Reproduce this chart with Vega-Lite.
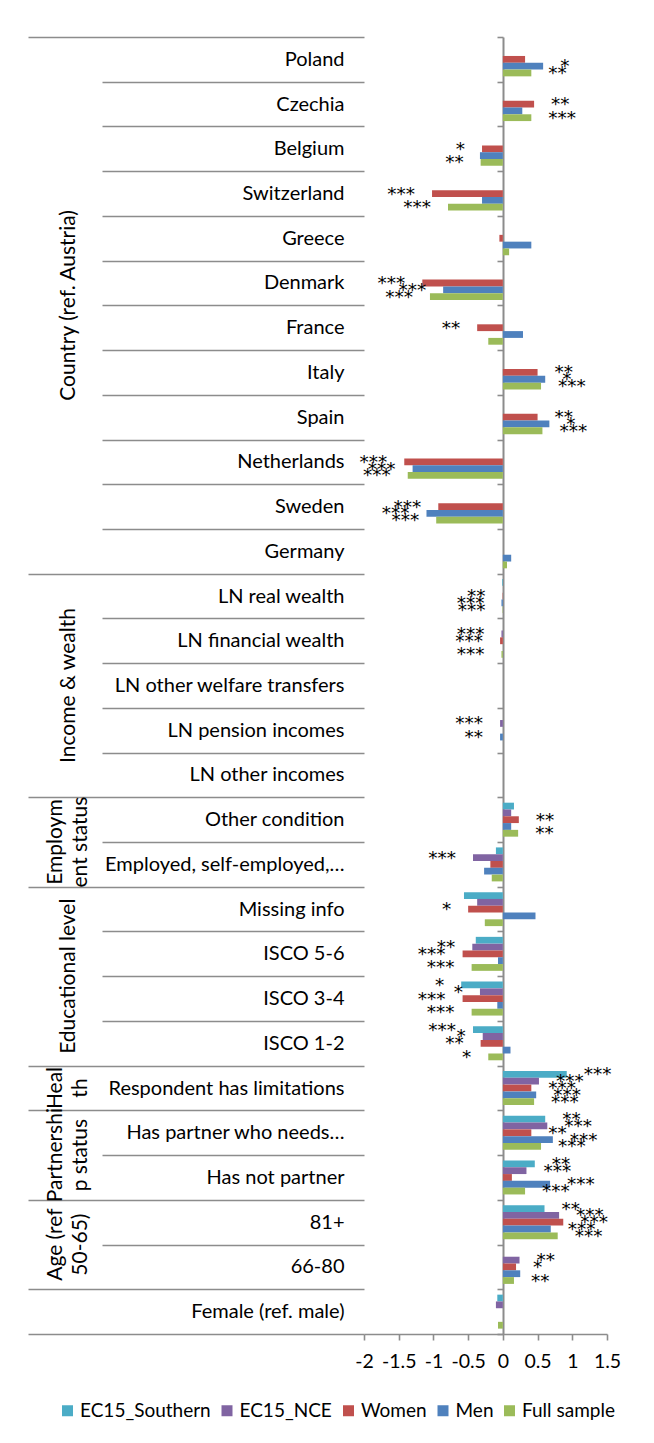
{
  "$schema": "https://vega.github.io/schema/vega-lite/v6.json",
  "width": 243,
  "height": 1297,
  "autosize": {"type": "none"},
  "padding": {"left": 364, "top": 37, "right": 47, "bottom": 109},
  "background": "white",
  "config": {"view": {"stroke": null}, "font": "Lato"},
  "data": {
    "values": [
      {"cat": "Poland", "series": "Women", "value": 0.32, "star": ""},
      {"cat": "Poland", "series": "Men", "value": 0.58, "star": "*"},
      {"cat": "Poland", "series": "Full sample", "value": 0.41, "star": "**"},
      {"cat": "Czechia", "series": "Women", "value": 0.45, "star": "**"},
      {"cat": "Czechia", "series": "Men", "value": 0.28, "star": ""},
      {"cat": "Czechia", "series": "Full sample", "value": 0.41, "star": "***"},
      {"cat": "Belgium", "series": "Women", "value": -0.30, "star": "*"},
      {"cat": "Belgium", "series": "Men", "value": -0.33, "star": ""},
      {"cat": "Belgium", "series": "Full sample", "value": -0.32, "star": "**"},
      {"cat": "Switzerland", "series": "Women", "value": -1.02, "star": "***"},
      {"cat": "Switzerland", "series": "Men", "value": -0.30, "star": ""},
      {"cat": "Switzerland", "series": "Full sample", "value": -0.79, "star": "***"},
      {"cat": "Greece", "series": "Women", "value": -0.05, "star": ""},
      {"cat": "Greece", "series": "Men", "value": 0.41, "star": ""},
      {"cat": "Greece", "series": "Full sample", "value": 0.09, "star": ""},
      {"cat": "Denmark", "series": "Women", "value": -1.16, "star": "***"},
      {"cat": "Denmark", "series": "Men", "value": -0.86, "star": "***"},
      {"cat": "Denmark", "series": "Full sample", "value": -1.05, "star": "***"},
      {"cat": "France", "series": "Women", "value": -0.37, "star": "**"},
      {"cat": "France", "series": "Men", "value": 0.29, "star": ""},
      {"cat": "France", "series": "Full sample", "value": -0.21, "star": ""},
      {"cat": "Italy", "series": "Women", "value": 0.50, "star": "**"},
      {"cat": "Italy", "series": "Men", "value": 0.61, "star": "*"},
      {"cat": "Italy", "series": "Full sample", "value": 0.55, "star": "***"},
      {"cat": "Spain", "series": "Women", "value": 0.50, "star": "**"},
      {"cat": "Spain", "series": "Men", "value": 0.67, "star": "*"},
      {"cat": "Spain", "series": "Full sample", "value": 0.57, "star": "***"},
      {"cat": "Netherlands", "series": "Women", "value": -1.42, "star": "***"},
      {"cat": "Netherlands", "series": "Men", "value": -1.30, "star": "***"},
      {"cat": "Netherlands", "series": "Full sample", "value": -1.37, "star": "***"},
      {"cat": "Sweden", "series": "Women", "value": -0.93, "star": "***"},
      {"cat": "Sweden", "series": "Men", "value": -1.10, "star": "***"},
      {"cat": "Sweden", "series": "Full sample", "value": -0.96, "star": "***"},
      {"cat": "Germany", "series": "Men", "value": 0.12, "star": ""},
      {"cat": "Germany", "series": "Full sample", "value": 0.06, "star": ""},
      {"cat": "LN real wealth", "series": "EC15_Southern", "value": -0.01, "star": ""},
      {"cat": "LN real wealth", "series": "Women", "value": -0.005, "star": "**"},
      {"cat": "LN real wealth", "series": "Men", "value": -0.02, "star": "***"},
      {"cat": "LN real wealth", "series": "Full sample", "value": -0.005, "star": "***"},
      {"cat": "LN financial wealth", "series": "EC15_NCE", "value": -0.02, "star": "***"},
      {"cat": "LN financial wealth", "series": "Women", "value": -0.04, "star": "***"},
      {"cat": "LN financial wealth", "series": "Full sample", "value": -0.02, "star": "***"},
      {"cat": "LN pension incomes", "series": "EC15_NCE", "value": -0.04, "star": "***"},
      {"cat": "LN pension incomes", "series": "Men", "value": -0.04, "star": "**"},
      {"cat": "Other condition", "series": "EC15_Southern", "value": 0.16, "star": ""},
      {"cat": "Other condition", "series": "EC15_NCE", "value": 0.12, "star": ""},
      {"cat": "Other condition", "series": "Women", "value": 0.23, "star": "**"},
      {"cat": "Other condition", "series": "Men", "value": 0.12, "star": ""},
      {"cat": "Other condition", "series": "Full sample", "value": 0.22, "star": "**"},
      {"cat": "Employed, self-employed,…", "series": "EC15_Southern", "value": -0.10, "star": ""},
      {"cat": "Employed, self-employed,…", "series": "EC15_NCE", "value": -0.43, "star": "***"},
      {"cat": "Employed, self-employed,…", "series": "Women", "value": -0.18, "star": ""},
      {"cat": "Employed, self-employed,…", "series": "Men", "value": -0.27, "star": ""},
      {"cat": "Employed, self-employed,…", "series": "Full sample", "value": -0.16, "star": ""},
      {"cat": "Missing info", "series": "EC15_Southern", "value": -0.56, "star": ""},
      {"cat": "Missing info", "series": "EC15_NCE", "value": -0.37, "star": ""},
      {"cat": "Missing info", "series": "Women", "value": -0.50, "star": "*"},
      {"cat": "Missing info", "series": "Men", "value": 0.47, "star": ""},
      {"cat": "Missing info", "series": "Full sample", "value": -0.26, "star": ""},
      {"cat": "ISCO 5-6", "series": "EC15_Southern", "value": -0.39, "star": ""},
      {"cat": "ISCO 5-6", "series": "EC15_NCE", "value": -0.44, "star": "**"},
      {"cat": "ISCO 5-6", "series": "Women", "value": -0.58, "star": "***"},
      {"cat": "ISCO 5-6", "series": "Men", "value": -0.07, "star": ""},
      {"cat": "ISCO 5-6", "series": "Full sample", "value": -0.45, "star": "***"},
      {"cat": "ISCO 3-4", "series": "EC15_Southern", "value": -0.60, "star": "*"},
      {"cat": "ISCO 3-4", "series": "EC15_NCE", "value": -0.33, "star": "*"},
      {"cat": "ISCO 3-4", "series": "Women", "value": -0.58, "star": "***"},
      {"cat": "ISCO 3-4", "series": "Men", "value": -0.08, "star": ""},
      {"cat": "ISCO 3-4", "series": "Full sample", "value": -0.45, "star": "***"},
      {"cat": "ISCO 1-2", "series": "EC15_Southern", "value": -0.43, "star": "***"},
      {"cat": "ISCO 1-2", "series": "EC15_NCE", "value": -0.29, "star": "*"},
      {"cat": "ISCO 1-2", "series": "Women", "value": -0.32, "star": "**"},
      {"cat": "ISCO 1-2", "series": "Men", "value": 0.11, "star": ""},
      {"cat": "ISCO 1-2", "series": "Full sample", "value": -0.21, "star": "*"},
      {"cat": "Respondent has limitations", "series": "EC15_Southern", "value": 0.92, "star": "***"},
      {"cat": "Respondent has limitations", "series": "EC15_NCE", "value": 0.52, "star": "***"},
      {"cat": "Respondent has limitations", "series": "Women", "value": 0.41, "star": "***"},
      {"cat": "Respondent has limitations", "series": "Men", "value": 0.48, "star": "***"},
      {"cat": "Respondent has limitations", "series": "Full sample", "value": 0.45, "star": "***"},
      {"cat": "Has partner who needs…", "series": "EC15_Southern", "value": 0.61, "star": "**"},
      {"cat": "Has partner who needs…", "series": "EC15_NCE", "value": 0.64, "star": "***"},
      {"cat": "Has partner who needs…", "series": "Women", "value": 0.41, "star": "**"},
      {"cat": "Has partner who needs…", "series": "Men", "value": 0.72, "star": "***"},
      {"cat": "Has partner who needs…", "series": "Full sample", "value": 0.55, "star": "***"},
      {"cat": "Has not partner", "series": "EC15_Southern", "value": 0.46, "star": "**"},
      {"cat": "Has not partner", "series": "EC15_NCE", "value": 0.34, "star": "***"},
      {"cat": "Has not partner", "series": "Women", "value": 0.13, "star": ""},
      {"cat": "Has not partner", "series": "Men", "value": 0.68, "star": "***"},
      {"cat": "Has not partner", "series": "Full sample", "value": 0.32, "star": "***"},
      {"cat": "81+", "series": "EC15_Southern", "value": 0.60, "star": "**"},
      {"cat": "81+", "series": "EC15_NCE", "value": 0.81, "star": "***"},
      {"cat": "81+", "series": "Women", "value": 0.87, "star": "***"},
      {"cat": "81+", "series": "Men", "value": 0.69, "star": "***"},
      {"cat": "81+", "series": "Full sample", "value": 0.79, "star": "***"},
      {"cat": "66-80", "series": "EC15_NCE", "value": 0.24, "star": "**"},
      {"cat": "66-80", "series": "Women", "value": 0.19, "star": "*"},
      {"cat": "66-80", "series": "Men", "value": 0.25, "star": ""},
      {"cat": "66-80", "series": "Full sample", "value": 0.16, "star": "**"},
      {"cat": "Female (ref. male)", "series": "EC15_Southern", "value": -0.08, "star": ""},
      {"cat": "Female (ref. male)", "series": "EC15_NCE", "value": -0.10, "star": ""},
      {"cat": "Female (ref. male)", "series": "Full sample", "value": -0.07, "star": ""}
    ]
  },
  "layer": [
    {
      "mark": {"type": "bar"},
      "encoding": {
        "y": {
          "field": "cat", "type": "nominal", "sort": null,
          "scale": {
            "domain": ["Poland","Czechia","Belgium","Switzerland","Greece","Denmark","France","Italy","Spain","Netherlands","Sweden","Germany","LN real wealth","LN financial wealth","LN other welfare transfers","LN pension incomes","LN other incomes","Other condition","Employed, self-employed,…","Missing info","ISCO 5-6","ISCO 3-4","ISCO 1-2","Respondent has limitations","Has partner who needs…","Has not partner","81+","66-80","Female (ref. male)"],
            "paddingInner": 0, "paddingOuter": 0
          },
          "axis": {
            "title": null, "orient": "left", "domain": false, "ticks": true, "tickBand": "extent",
            "tickColor": "#8c8c8c", "tickWidth": 1.6,
            "tickSize": {"condition": {"test": "datum.extra || indexof(['Germany','LN other incomes','Employed, self-employed,…','ISCO 1-2','Respondent has limitations','Has not partner','66-80','Female (ref. male)'], datum.value) >= 0", "value": 336}, "value": 262},
            "labelPadding": {"condition": {"test": "indexof(['Germany','LN other incomes','Employed, self-employed,…','ISCO 1-2','Respondent has limitations','Has not partner','66-80','Female (ref. male)'], datum.value) >= 0", "value": -316}, "value": -242},
            "labelAlign": "right", "labelBaseline": "middle", "labelFont": "Lato", "labelFontSize": 20,
            "labelColor": "#000000", "labelLimit": 0
          }
        },
        "yOffset": {
          "field": "series", "type": "nominal",
          "scale": {"domain": ["EC15_Southern","EC15_NCE","Women","Men","Full sample"], "paddingInner": 0, "paddingOuter": 0.79}
        },
        "x": {
          "field": "value", "type": "quantitative",
          "scale": {"domain": [-2, 1.5], "nice": false, "zero": false},
          "axis": {
            "title": null, "values": [-2, -1.5, -1, -0.5, 0, 0.5, 1, 1.5], "tickCount": 8, "labelExpr": "datum.value + ''",
            "grid": false, "domainColor": "#8c8c8c", "domainWidth": 1.6, "tickColor": "#8c8c8c", "tickWidth": 1.6,
            "tickSize": 6, "labelPadding": 12, "labelFont": "Lato", "labelFontSize": 19.5, "labelColor": "#000000",
            "labelFlush": false, "labelOverlap": false
          }
        },
        "color": {
          "field": "series", "type": "nominal",
          "scale": {"domain": ["EC15_Southern","EC15_NCE","Women","Men","Full sample"], "range": ["#4BACC6","#8064A2","#C0504D","#4F81BD","#9BBB59"]},
          "legend": {
            "title": null, "orient": "none", "legendX": -306, "legendY": 1364, "direction": "horizontal", "columns": 5,
            "columnPadding": 6.5, "labelFont": "Lato", "labelFontSize": 19, "labelColor": "#000000",
            "symbolType": "square", "symbolSize": 121, "symbolStrokeWidth": 0, "labelOffset": 3, "labelLimit": 0
          }
        }
      }
    },
    {
      "transform": [{"filter": "datum.star != '' && datum.value > 0"}],
      "mark": {"type": "text", "align": "left", "baseline": "middle", "dx": 17, "font": "DejaVu Sans", "fontSize": 18.5, "color": "#000000"},
      "encoding": {
        "y": {
          "field": "cat", "type": "nominal", "sort": null,
          "axis": {
            "title": null, "orient": "left", "offset": -139, "domain": true, "domainColor": "#8c8c8c", "domainWidth": 2,
            "ticks": true, "tickBand": "extent", "tickSize": 6, "tickColor": "#8c8c8c", "tickWidth": 1.6, "labels": false
          }
        },
        "yOffset": {"field": "series", "type": "nominal"},
        "x": {
          "field": "value", "type": "quantitative",
          "axis": {
            "title": null, "values": [-2, -1.5, -1, -0.5, 0, 0.5, 1, 1.5], "tickCount": 8, "labelExpr": "datum.value + ''",
            "grid": false, "domainColor": "#8c8c8c", "domainWidth": 1.6, "tickColor": "#8c8c8c", "tickWidth": 1.6,
            "tickSize": 6, "labelPadding": 12, "labelFont": "Lato", "labelFontSize": 19.5, "labelColor": "#000000",
            "labelFlush": false, "labelOverlap": false
          }
        },
        "text": {"field": "star"}
      }
    },
    {
      "transform": [{"filter": "datum.star != '' && datum.value < 0"}],
      "mark": {"type": "text", "align": "right", "baseline": "middle", "dx": -17, "font": "DejaVu Sans", "fontSize": 18.5, "color": "#000000"},
      "encoding": {
        "y": {
          "field": "cat", "type": "nominal", "sort": null,
          "axis": {
            "title": null, "orient": "left", "domain": false, "ticks": false,
            "values": ["Denmark","LN other welfare transfers","Other condition","ISCO 5-6","Respondent has limitations","Has partner who needs…","81+"],
            "labelExpr": "datum.value == 'Denmark' ? 'Country (ref. Austria)' : datum.value == 'LN other welfare transfers' ? 'Income & wealth' : datum.value == 'Other condition' ? ['Employm', 'ent status'] : datum.value == 'ISCO 5-6' ? 'Educational level' : datum.value == 'Respondent has limitations' ? ['Heal', 'th'] : datum.value == 'Has partner who needs…' ? ['Partnershi', 'p status'] : ['Age (ref', '50-65)']",
            "labelAngle": 270, "labelAlign": "center", "labelBaseline": "middle",
            "labelPadding": {"condition": {"test": "datum.value == 'Other condition' || datum.value == 'Respondent has limitations' || datum.value == 'Has partner who needs…' || datum.value == '81+'", "value": 308.5}, "value": 296},
            "labelOffset": {"condition": {"test": "datum.value == 'LN other welfare transfers' || datum.value == 'Respondent has limitations'", "value": 0}, "value": 22.4},
            "labelFont": "Lato", "labelFontSize": 21, "labelColor": "#000000", "labelLineHeight": 25, "labelLimit": 0
          }
        },
        "yOffset": {"field": "series", "type": "nominal"},
        "x": {
          "field": "value", "type": "quantitative",
          "axis": {
            "title": null, "values": [-2, -1.5, -1, -0.5, 0, 0.5, 1, 1.5], "tickCount": 8, "labelExpr": "datum.value + ''",
            "grid": false, "domainColor": "#8c8c8c", "domainWidth": 1.6, "tickColor": "#8c8c8c", "tickWidth": 1.6,
            "tickSize": 6, "labelPadding": 12, "labelFont": "Lato", "labelFontSize": 19.5, "labelColor": "#000000",
            "labelFlush": false, "labelOverlap": false
          }
        },
        "text": {"field": "star"}
      }
    }
  ],
  "resolve": {"axis": {"y": "independent"}}
}
